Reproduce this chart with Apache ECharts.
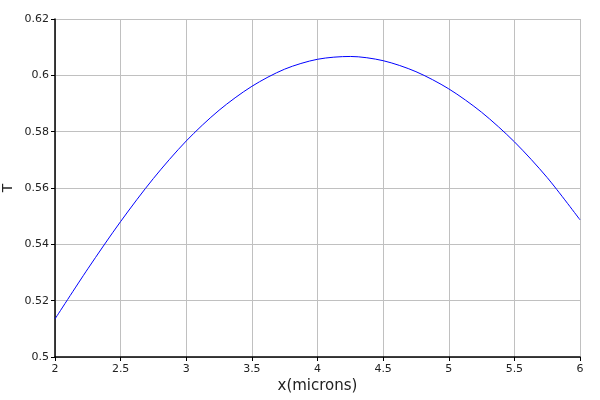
<!DOCTYPE html>
<html>
<head>
<meta charset="utf-8">
<script src="https://cdn.jsdelivr.net/npm/echarts@6/dist/echarts.min.js"></script>
<style>
html, body { margin: 0; padding: 0; background: #fff; }
#main { width: 600px; height: 400px; }
</style>
</head>
<body>
<div id="main"></div>
<script>
// values
var xVals = [2, 2.25, 2.5, 2.75, 3, 3.25, 3.5, 3.75, 4, 4.25, 4.5, 4.75, 5, 5.25, 5.5, 5.75, 6];
var tVals = [0.5135, 0.5313, 0.5481, 0.5634, 0.5767, 0.5876, 0.5961, 0.6022, 0.6057, 0.6067,
             0.6052, 0.6013, 0.5952, 0.5869, 0.5764, 0.5637, 0.5487];

var xName = 'x(microns)';
var yName = 'T';

var points = [];
for (var i = 0; i < xVals.length; i++) {
    points.push([xVals[i], tVals[i]]);
}

var labelFont = { color: '#222', fontSize: 11, fontFamily: 'DejaVu Sans' };

var option = {
    animation: false,
    grid: { left: 55, right: 20, top: 19, bottom: 43, containLabel: false, outerBoundsMode: 'none' },
    xAxis: {
        type: 'value',
        min: 2, max: 6, interval: 0.5,
        name: xName,
        nameLocation: 'middle',
        nameGap: 22,
        nameMoveOverlap: false,
        nameTextStyle: { color: '#222', fontSize: 15, fontFamily: 'DejaVu Sans' },
        axisLine: { lineStyle: { color: '#000', width: 1.5 } },
        axisTick: { length: 4, lineStyle: { color: '#000' } },
        axisLabel: Object.assign({ margin: 7 }, labelFont),
        splitLine: { lineStyle: { color: '#c0c0c0', width: 1 } }
    },
    yAxis: {
        type: 'value',
        min: 0.5, max: 0.62, interval: 0.02,
        name: yName,
        nameLocation: 'middle',
        nameGap: 40,
        nameRotate: 90,
        nameMoveOverlap: false,
        nameTextStyle: { color: '#222', fontSize: 14, fontFamily: 'DejaVu Sans' },
        axisLine: { show: true, lineStyle: { color: '#000', width: 1.5 } },
        axisTick: { show: true, length: 4, lineStyle: { color: '#000' } },
        axisLabel: Object.assign({ margin: 6 }, labelFont),
        splitLine: { lineStyle: { color: '#c0c0c0', width: 1 } }
    },
    series: [{
        type: 'line',
        data: points,
        smooth: 0.3,
        showSymbol: false,
        lineStyle: { color: '#0000ff', width: 1 }
    }]
};

var myChart = echarts.init(document.getElementById('main'));
myChart.setOption(option);
</script>
</body>
</html>
